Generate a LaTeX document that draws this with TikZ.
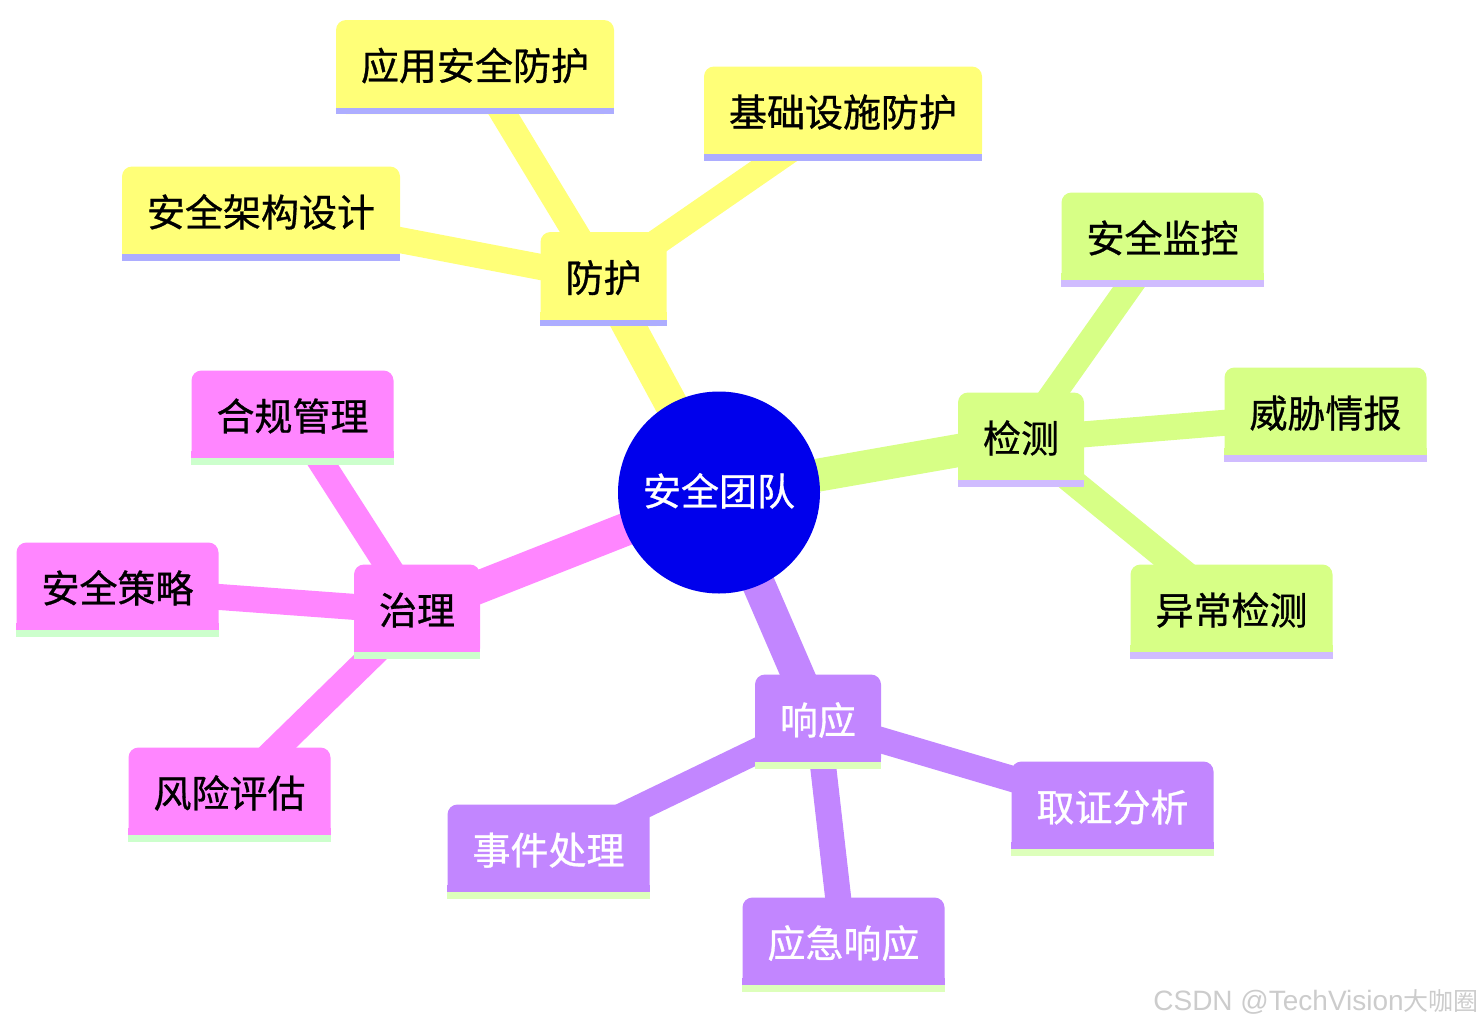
\documentclass[tikz,border=0pt]{standalone}
\usepackage{fontspec}
\newfontfamily\cjk[FakeBold=0.8]{Noto Sans CJK SC}
\newfontfamily\cjkw{Noto Sans CJK SC}
\newfontfamily\wmlat{Liberation Sans}
\usetikzlibrary{backgrounds}
\definecolor{secAfill}{HTML}{FFFF78}
\definecolor{secAunder}{HTML}{ADADFF}
\definecolor{secAtext}{HTML}{000000}
\definecolor{secBfill}{HTML}{D7FF86}
\definecolor{secBunder}{HTML}{D0BCFF}
\definecolor{secBtext}{HTML}{000000}
\definecolor{secCfill}{HTML}{C286FF}
\definecolor{secCunder}{HTML}{DDFFBB}
\definecolor{secCtext}{HTML}{FFFFFF}
\definecolor{secDfill}{HTML}{FF86FF}
\definecolor{secDunder}{HTML}{CCFFCC}
\definecolor{secDtext}{HTML}{000000}
\definecolor{rootfill}{HTML}{0000EC}
\tikzset{
  mbox/.style={rectangle, rounded corners=10pt, minimum height=94pt, inner xsep=25pt, inner ysep=0pt,
    font=\cjk\fontsize{38}{40}\selectfont, text height=31pt, text depth=5pt},
  rootnode/.style={circle, fill=rootfill, minimum size=202pt, inner sep=0pt, text=white,
    font=\cjk\fontsize{38}{40}\selectfont, text height=31pt, text depth=5pt},
  rootedge/.style={line width=33pt},
  childedge/.style={line width=26pt},
}
\newcommand\mmbox[4]{%
  \node[mbox, fill=sec#4fill, text=sec#4text] (#1) at (#2) {#3};
  \fill[sec#4fill] (#1.south west) rectangle ([yshift=14pt]#1.south east);
  \fill[sec#4under] (#1.south west) rectangle ([yshift=6.5pt]#1.south east);
}
\begin{document}
\begin{tikzpicture}[x=1pt,y=-1pt]
\useasboundingbox (0,0) rectangle (1484,1026);
\node[rootnode] (root) at (719,492.5) {安全团队};
% protection
\mmbox{fh}{603.5,279}{防护}{A}
\mmbox{yy}{475,67}{应用安全防护}{A}
\mmbox{jc}{843,113.5}{基础设施防护}{A}
\mmbox{jg}{261,213.5}{安全架构设计}{A}
% detection
\mmbox{jcn}{1021,439.5}{检测}{B}
\mmbox{jk}{1162.5,239.5}{安全监控}{B}
\mmbox{wx}{1325.5,414.5}{威胁情报}{B}
\mmbox{yc}{1231.5,611.5}{异常检测}{B}
% response
\mmbox{xy}{818,721.5}{响应}{C}
\mmbox{sj}{548.5,851.5}{事件处理}{C}
\mmbox{yj}{843.5,944.5}{应急响应}{C}
\mmbox{qz}{1112.5,808.5}{取证分析}{C}
% governance
\mmbox{zl}{417,611.5}{治理}{D}
\mmbox{hg}{292.5,417.5}{合规管理}{D}
\mmbox{cl}{117.5,589.5}{安全策略}{D}
\mmbox{fx}{229.5,794.5}{风险评估}{D}
\begin{scope}[on background layer]
\draw[rootedge, secAfill] (root.center) -- (fh.center);
\draw[childedge, secAfill] (fh.center) -- (yy.center);
\draw[childedge, secAfill] (fh.center) -- (jc.center);
\draw[childedge, secAfill] (fh.center) -- (jg.center);
\draw[rootedge, secBfill] (root.center) -- (jcn.center);
\draw[childedge, secBfill] (jcn.center) -- (jk.center);
\draw[childedge, secBfill] (jcn.center) -- (wx.center);
\draw[childedge, secBfill] (jcn.center) -- (yc.center);
\draw[rootedge, secCfill] (root.center) -- (xy.center);
\draw[childedge, secCfill] (xy.center) -- (sj.center);
\draw[childedge, secCfill] (xy.center) -- (yj.center);
\draw[childedge, secCfill] (xy.center) -- (qz.center);
\draw[rootedge, secDfill] (root.center) -- (zl.center);
\draw[childedge, secDfill] (zl.center) -- (hg.center);
\draw[childedge, secDfill] (zl.center) -- (cl.center);
\draw[childedge, secDfill] (zl.center) -- (fx.center);
\end{scope}
\node[anchor=base east, inner sep=0pt, text=black!20] (wm) at (1479,1010)
  {{\wmlat\fontsize{28}{30}\selectfont CSDN @TechVision}{\cjkw\fontsize{25}{28}\selectfont 大咖圈}};
\end{tikzpicture}
\end{document}
